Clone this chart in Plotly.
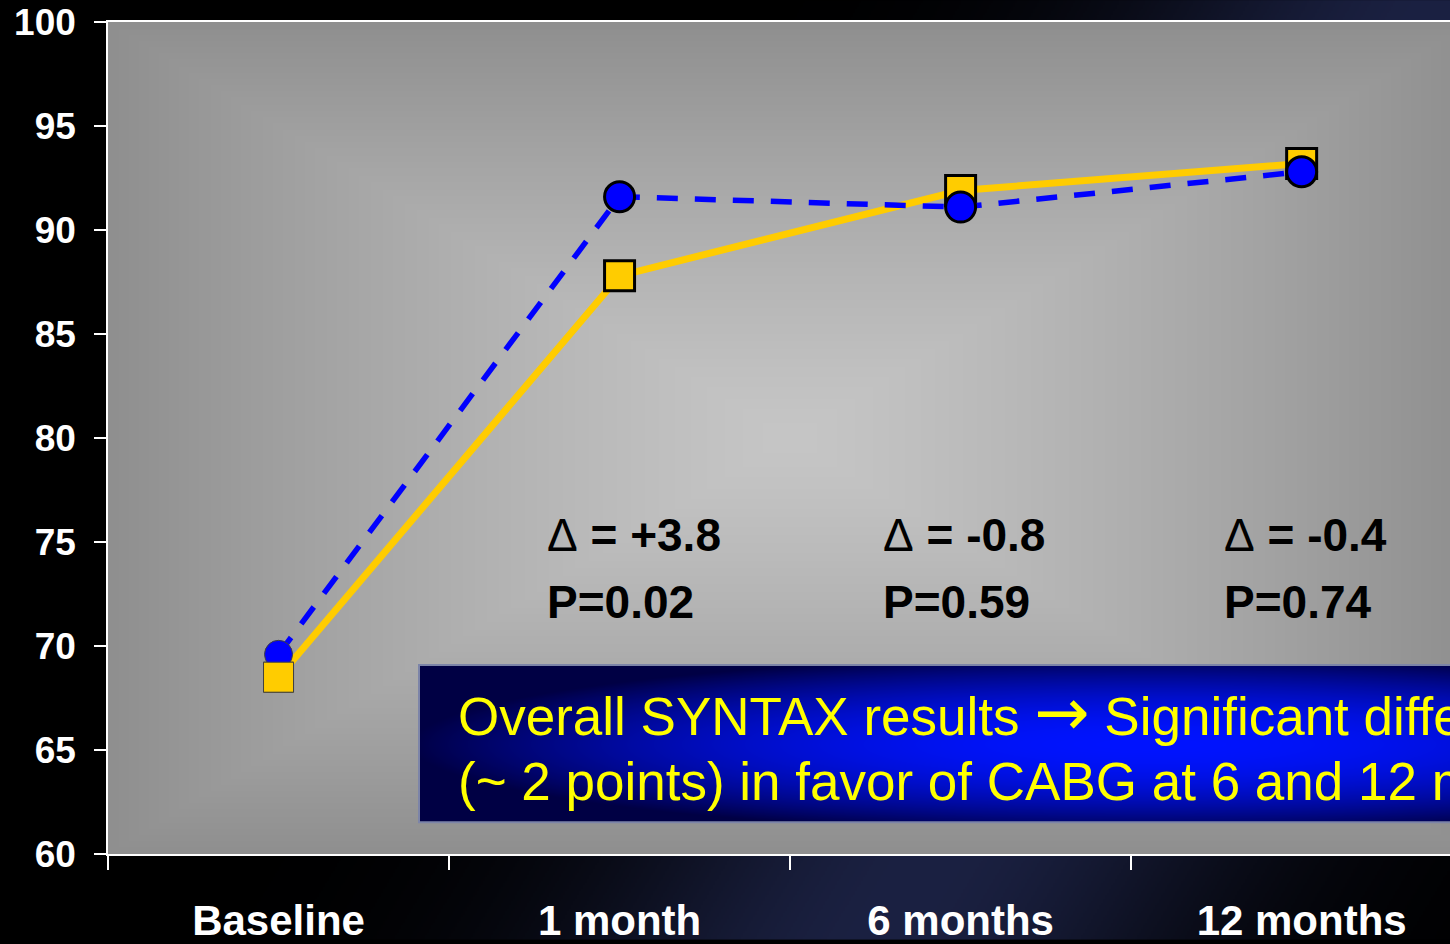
import base64
import struct
import zlib

import numpy as np
import plotly.graph_objects as go

# ---- data -------------------------------------------------------------
timepoints = ["Baseline", "1 month", "6 months", "12 months"]
cabg_scores = [68.5, 87.8, 91.9, 93.2]
pci_scores = [69.6, 91.6, 91.1, 92.8]
delta_labels = ["+3.8", "-0.8", "-0.4"]
p_labels = ["0.02", "0.59", "0.74"]
delta_timepoints = ["1 month", "6 months", "12 months"]

# ---- figure geometry (pixels) -----------------------------------------
W, H = 1450, 944
ML, MR, MT, MB = 108, 0, 22, 86
PW, PH = W - ML - MR, H - MT - MB
FONT = "Liberation Sans, Arial, sans-serif"


def png_uri(rgb):
    """Encode an HxWx3 uint8 array as a PNG data URI."""
    rgb = np.ascontiguousarray(rgb, dtype=np.uint8)
    h, w, _ = rgb.shape
    raw = b"".join(b"\x00" + rgb[i].tobytes() for i in range(h))

    def chunk(tag, data):
        body = tag + data
        return struct.pack(">I", len(data)) + body + struct.pack(">I", zlib.crc32(body) & 0xFFFFFFFF)

    png = (b"\x89PNG\r\n\x1a\n"
           + chunk(b"IHDR", struct.pack(">IIBBBBB", w, h, 8, 2, 0, 0, 0))
           + chunk(b"IDAT", zlib.compress(raw, 9))
           + chunk(b"IEND", b""))
    return "data:image/png;base64," + base64.b64encode(png).decode()


def px_to_paper_x(px):
    return (px - ML) / PW


def px_to_paper_y(py):
    return (H - MB - py) / PH


# slide background: black with a diagonal navy glow
s = 2
yy, xx = np.mgrid[0:H:s, 0:W:s].astype(float) + s / 2
p0 = np.array([880.0, 944.0])
d = np.array([570.0, -944.0])
d /= np.linalg.norm(d)
dist = np.abs((xx - p0[0]) * d[1] - (yy - p0[1]) * d[0])
glow = np.exp(-(dist / 270.0) ** 2)
bg = np.stack([glow * 27, glow * 33, glow * 66], axis=-1)
bg_uri = png_uri(bg)

# plot area: rectangular gray gradient, light in the middle
yy, xx = np.mgrid[0:PH:s, 0:PW:s].astype(float) + s / 2
cx, cy = (1472 - ML) / 2, PH / 2
hx, hy = (1472 - ML) / 2, PH / 2
t = np.maximum(np.abs(xx - cx) / hx, np.abs(yy - cy) / hy).clip(0, 1) ** 1.25
g = 198 + (143 - 198) * t
plot_bg_uri = png_uri(np.stack([g, g, g], axis=-1))

# callout box: radial blue gradient
bx0, bx1, by0, by1 = 419, 1450, 668, 826
yy, xx = np.mgrid[by0:by1, bx0:bx1].astype(float) + 0.5
r = np.sqrt(((xx - 1150) / 740) ** 2 + ((yy - 748) / 90) ** 2).clip(0, 1) ** 2
box = np.stack([0 * r, 20 * (1 - r), 255 * (1 - r) + 68 * r], axis=-1)
box_uri = png_uri(box)

fig = go.Figure()

cabg_marker = dict(symbol="square", size=30, color="#ffcc00", opacity=1,
                   line=dict(color=["#404040", "black", "black", "black"], width=[1, 3, 3, 3]))
fig.add_trace(go.Scatter(
    x=timepoints, y=cabg_scores, name="CABG", mode="lines+markers",
    line=dict(color="#ffcc00", width=7), marker=cabg_marker, hoverinfo="skip",
))
fig.add_trace(go.Scatter(
    x=timepoints, y=pci_scores, name="PCI", mode="lines+markers",
    line=dict(color="#0000ff", width=5.5, dash="21px,17px"),
    marker=dict(symbol="circle", size=[28, 30, 30, 30], color="#0000ff", opacity=1,
                line=dict(color=["#404040", "black", "black", "black"], width=[1, 3, 3, 3])),
    hoverinfo="skip",
))
# the baseline CABG square sits on top of the PCI circle
fig.add_trace(go.Scatter(
    x=timepoints[:1], y=cabg_scores[:1], mode="markers", showlegend=False,
    marker=dict(symbol="square", size=30, color="#ffcc00", opacity=1,
                line=dict(color="#404040", width=1)),
    hoverinfo="skip",
))

annotations = []
label_shifts = [-75, -80, -80]
for tp, dl, pl, xs in zip(delta_timepoints, delta_labels, p_labels, label_shifts):
    annotations.append(dict(
        x=tp, y=75.35, xref="x", yref="y", xanchor="left", yanchor="middle", xshift=xs,
        text="Δ<b> = " + dl + "</b>", showarrow=False,
        font=dict(family=FONT, size=46, color="black"),
    ))
    annotations.append(dict(
        x=tp, y=72.1, xref="x", yref="y", xanchor="left", yanchor="middle", xshift=xs,
        text="<b>P=" + pl + "</b>", showarrow=False,
        font=dict(family=FONT, size=46, color="black"),
    ))

arrow = "<span style='font-family:DejaVu Sans;font-size:66px'>→</span>"
box_lines = [
    "Overall SYNTAX results " + arrow + " Significant difference",
    "(~ 2 points) in favor of CABG at 6 and 12 months",
]
for line_text, ypx in zip(box_lines, [716, 785]):
    annotations.append(dict(
        x=px_to_paper_x(456), y=px_to_paper_y(ypx), xref="paper", yref="paper",
        xanchor="left", yanchor="middle", align="left", showarrow=False,
        text=line_text,
        font=dict(family=FONT, size=53, color="#ffff00"),
    ))

images = [
    dict(source=bg_uri, xref="paper", yref="paper",
         x=px_to_paper_x(0), y=px_to_paper_y(0), sizex=W / PW, sizey=H / PH,
         sizing="stretch", layer="below", xanchor="left", yanchor="top"),
    dict(source=plot_bg_uri, xref="paper", yref="paper", x=0, y=1, sizex=1, sizey=1,
         sizing="stretch", layer="below", xanchor="left", yanchor="top"),
    dict(source=box_uri, xref="paper", yref="paper",
         x=px_to_paper_x(bx0), y=px_to_paper_y(by0),
         sizex=(bx1 - bx0) / PW, sizey=(by1 - by0) / PH,
         sizing="stretch", layer="below", xanchor="left", yanchor="top"),
]

shapes = [
    dict(type="rect", xref="paper", yref="paper",
         x0=px_to_paper_x(bx0), x1=px_to_paper_x(1500),
         y0=px_to_paper_y(by1), y1=px_to_paper_y(by0),
         line=dict(color="#7c84a8", width=2), fillcolor="rgba(0,0,0,0)", layer="above"),
]

fig.update_layout(
    width=W, height=H,
    margin=dict(l=ML, r=MR, t=MT, b=MB, pad=0),
    paper_bgcolor="black", plot_bgcolor="rgba(0,0,0,0)",
    showlegend=False,
    images=images, shapes=shapes, annotations=annotations,
    xaxis=dict(
        type="category", range=[-0.5, 3.435], tickson="boundaries",
        showline=True, linecolor="white", linewidth=1.5, mirror=True,
        ticks="outside", ticklen=14, tickcolor="white", tickwidth=1.5,
        showgrid=False, zeroline=False, ticklabelstandoff=29,
        tickfont=dict(family=FONT, size=42, color="white", weight="bold"),
    ),
    yaxis=dict(
        range=[60, 100], dtick=5, tick0=60,
        showline=True, linecolor="white", linewidth=1.5,
        ticks="outside", ticklen=12, tickcolor="white", tickwidth=1.5,
        showgrid=False, zeroline=False, ticklabelstandoff=11,
        tickfont=dict(family=FONT, size=37, color="white", weight="bold"),
    ),
)

fig.write_html("out.html")
